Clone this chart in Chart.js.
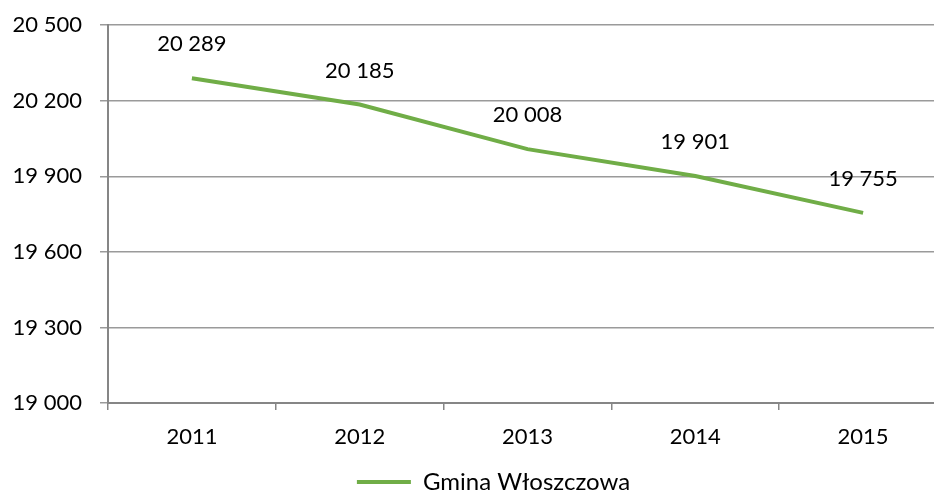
<!DOCTYPE html>
<html>
<head>
<meta charset="utf-8">
<script src="https://cdn.jsdelivr.net/npm/chart.js@4/dist/chart.umd.min.js"></script>
<style>
  html, body { margin: 0; padding: 0; background: #fff; overflow: hidden; }
  #wrap { position: relative; width: 947px; height: 510px; margin-top: -6px; }
</style>
</head>
<body>
<div id="wrap"><canvas id="chart"></canvas></div>
<script>
var years    = ['2011', '2012', '2013', '2014', '2015'];
var ludnosc  = [20289, 20185, 20008, 19901, 19755];
var seria    = 'Gmina Włoszczowa';
var yMin     = 19000;
var yMax     = 20500;
var yStep    = 300;

var zielony  = '#70ad47';
var szary    = '#868686';
var czcionka = 'Lato, "Open Sans", sans-serif';

function fmt(v) {
  return String(v).replace(/\B(?=(\d{3})+(?!\d))/g, ' ');
}

// etykiety nad punktami
var dataLabels = {
  id: 'dataLabels',
  afterDatasetsDraw: function(chart) {
    var ctx = chart.ctx;
    var meta = chart.getDatasetMeta(0);
    ctx.save();
    ctx.font = '22px ' + czcionka;
    ctx.fillStyle = '#000';
    ctx.textAlign = 'center';
    ctx.textBaseline = 'middle';
    meta.data.forEach(function(pt, i) {
      ctx.fillText(fmt(ludnosc[i]), pt.x, pt.y - 34);
    });
    ctx.restore();
  }
};

// legenda troche w prawo, jak w oryginale
var legendShift = {
  id: 'legendShift',
  afterLayout: function(chart) {
    if (chart.legend) {
      chart.legend.left += 20;
      chart.legend.right += 20;
    }
  }
};

Chart.defaults.font.family = czcionka;
Chart.defaults.font.size = 22;
Chart.defaults.color = '#000';

new Chart(document.getElementById('chart'), {
  type: 'line',
  data: {
    labels: years,
    datasets: [{
      label: seria,
      data: ludnosc,
      borderColor: zielony,
      backgroundColor: zielony,
      borderWidth: 4,
      pointRadius: 0,
      tension: 0
    }]
  },
  options: {
    responsive: true,
    maintainAspectRatio: false,
    animation: false,
    layout: { padding: { left: 0, right: 0, top: 7, bottom: 0 } },
    plugins: {
      tooltip: { enabled: false },
      legend: {
        position: 'bottom',
        labels: {
          boxWidth: 54,
          boxHeight: 4,
          padding: 6,
          font: { size: 24 },
          generateLabels: function(chart) {
            var items = Chart.defaults.plugins.legend.labels.generateLabels(chart);
            items.forEach(function(it) { it.lineWidth = 0; });
            return items;
          }
        }
      }
    },
    scales: {
      x: {
        offset: true,
        grid: {
          offset: true,
          drawOnChartArea: false,
          drawTicks: true,
          tickLength: 7,
          color: szary,
          lineWidth: 1.5
        },
        border: { color: szary, width: 2 },
        ticks: { padding: 14, font: { size: 22 } },
        afterFit: function(scale) { scale.height = 61; }
      },
      y: {
        min: yMin,
        max: yMax,
        ticks: {
          stepSize: yStep,
          padding: 18,
          font: { size: 22 },
          callback: function(v) { return fmt(v); }
        },
        grid: {
          color: '#9a9a9a',
          lineWidth: 1.5,
          tickLength: 8
        },
        border: { color: szary, width: 2 },
        afterFit: function(scale) { scale.width = 108; }
      }
    }
  },
  plugins: [dataLabels, legendShift]
});
</script>
</body>
</html>
